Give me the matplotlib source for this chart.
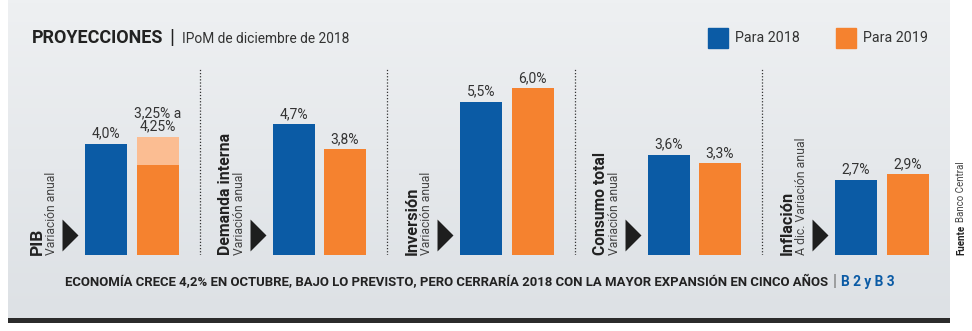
import numpy as np
import matplotlib.pyplot as plt
from matplotlib.colors import LinearSegmentedColormap

categorias = ["PIB", "Demanda interna", "Inversión", "Consumo total", "Inflación"]
subtitulos = ["Variación anual", "Variación anual", "Variación anual",
              "Variación anual", "A dic. Variación anual"]
para_2018 = [4.0, 4.7, 5.5, 3.6, 2.7]
para_2019 = [3.25, 3.8, 6.0, 3.3, 2.9]
rango_2019_sup = [4.25, None, None, None, None]
etiq_2018 = ["4,0%", "4,7%", "5,5%", "3,6%", "2,7%"]
etiq_2019 = ["3,25% a\n4,25%", "3,8%", "6,0%", "3,3%", "2,9%"]

# largo (px) de los rótulos en la referencia
largo_cat = [27, 122, 68, 103, 64]
largo_sub = [83, 83, 83, 83, 118]

AZUL = "#0b5ba5"
NARANJA = "#f5822f"
NARANJA_CLARO = "#fbbd92"
W, H = 972, 331

plt.rcParams['font.family'] = ['Roboto', 'DejaVu Sans']

fig = plt.figure(figsize=(W / 100, H / 100), dpi=100)
fig.patch.set_facecolor("white")
rend = fig.canvas.get_renderer()


def fx(x):
    return x / W


def fy(y):
    return 1 - y / H


def ajustar(t, largo, vertical=False):
    # escala el tamaño de letra para que el texto mida 'largo' px
    bb = t.get_window_extent(renderer=rend)
    actual = bb.height if vertical else bb.width
    t.set_fontsize(t.get_fontsize() * largo / actual)
    return t


# fondo gris con degradado
bg = fig.add_axes([fx(8), fy(318), fx(942), 318 / H])
cmap = LinearSegmentedColormap.from_list("bg", ["#eef0f2", "#dde1e5"])
bg.imshow(np.linspace(0, 1, 100).reshape(-1, 1), aspect="auto", cmap=cmap,
          extent=[0, 1, 0, 1])
bg.axis("off")

# barra inferior oscura
barra = fig.add_axes([fx(8), fy(323), fx(942), 5 / H])
barra.set_facecolor("#2b2b2b")
barra.set_xticks([])
barra.set_yticks([])
for s in barra.spines.values():
    s.set_visible(False)

# ejes principales
px_por_pct = 27.8
base = 255
ax = fig.add_axes([0, fy(base), 1, base / H])
ax.patch.set_alpha(0)
paso = 187.5
x0 = 106
ax.set_xlim(-x0 / paso, (W - x0) / paso)
ax.set_ylim(0, base / px_por_pct)
ax.axis("off")

x = np.arange(len(categorias))
dx = 51.5 / paso
ancho = 42 / paso

ax.bar(x, para_2018, width=ancho, color=AZUL)
for i, sup in enumerate(rango_2019_sup):
    if sup is not None:
        ax.bar(x[i] + dx, sup, width=ancho, color=NARANJA_CLARO)
ax.bar(x + dx, para_2019, width=ancho, color=NARANJA)

flecha = [(-0.5, -1), (0.5, 0), (-0.5, 1), (-0.5, -1)]
for i in range(len(categorias)):
    ax.text(x[i], para_2018[i] + 0.12, etiq_2018[i], ha="center", va="bottom",
            fontsize=10, color="#333333")
    tope = rango_2019_sup[i] if rango_2019_sup[i] is not None else para_2019[i]
    ax.text(x[i] + dx, tope + 0.12, etiq_2019[i], ha="center", va="bottom",
            fontsize=10, color="#333333", linespacing=0.95)
    t = ax.text(x[i] - 0.365, 0.0, categorias[i], rotation=90, rotation_mode="anchor",
                ha="left", va="center", fontsize=13, fontweight="bold", color="#222222")
    ajustar(t, largo_cat[i], vertical=True)
    t = ax.text(x[i] - 0.29, 0.0, subtitulos[i], rotation=90, rotation_mode="anchor",
                ha="left", va="center", fontsize=10, color="#444444")
    ajustar(t, largo_sub[i], vertical=True)
    ax.plot(x[i] - 0.19, 0.72, marker=flecha, markersize=23, color="#1e1e1e",
            markeredgewidth=0)

for i in range(len(categorias) - 1):
    ax.plot([x[i] + 0.5, x[i] + 0.5], [0, (base - 68) / px_por_pct],
            ls=(0, (1, 1.5)), lw=0.9, color="#333333")

# titulo
t = fig.text(fx(32), fy(38), "PROYECCIONES", fontsize=14, fontweight="bold",
             color="#222222", va="center")
ajustar(t, 133)
fig.text(fx(169), fy(38), "|", fontsize=15, color="#222222", va="center")
t = fig.text(fx(182), fy(39), "IPoM de diciembre de 2018", fontsize=11.5,
             color="#333333", va="center")
ajustar(t, 168)

# leyenda
for xc, col, txt in [(708, AZUL, "Para 2018"), (836, NARANJA, "Para 2019")]:
    fig.patches.append(plt.Rectangle((fx(xc), fy(48)), fx(20), 20 / H,
                                     transform=fig.transFigure, color=col))
    t = fig.text(fx(xc + 27), fy(38), txt, fontsize=12, color="#333333", va="center")
    ajustar(t, 65)

# pie
t = fig.text(fx(65), fy(282), "ECONOMÍA CRECE 4,2% EN OCTUBRE, BAJO LO PREVISTO, PERO CERRARÍA "
             "2018 CON LA MAYOR EXPANSIÓN EN CINCO AÑOS", fontsize=10.5,
             fontweight="bold", color="#222222", va="center")
ajustar(t, 763)
fig.text(fx(833), fy(282), "|", fontsize=12, color="#777777", va="center")
t = fig.text(fx(841), fy(282), "B 2 y B 3", fontsize=10.5, fontweight="bold",
             color=AZUL, va="center")
ajustar(t, 54)

# fuente
t = fig.text(fx(961), fy(255), "Fuente", rotation=90, rotation_mode="anchor",
             ha="left", va="center", fontsize=7, fontweight="bold", color="#222222")
alto = t.get_window_extent(renderer=rend).height
fig.text(fx(961), fy(255 - alto - 3), "Banco Central", rotation=90,
         rotation_mode="anchor", ha="left", va="center", fontsize=7, color="#444444")

fig.savefig("out.png", dpi=100)
